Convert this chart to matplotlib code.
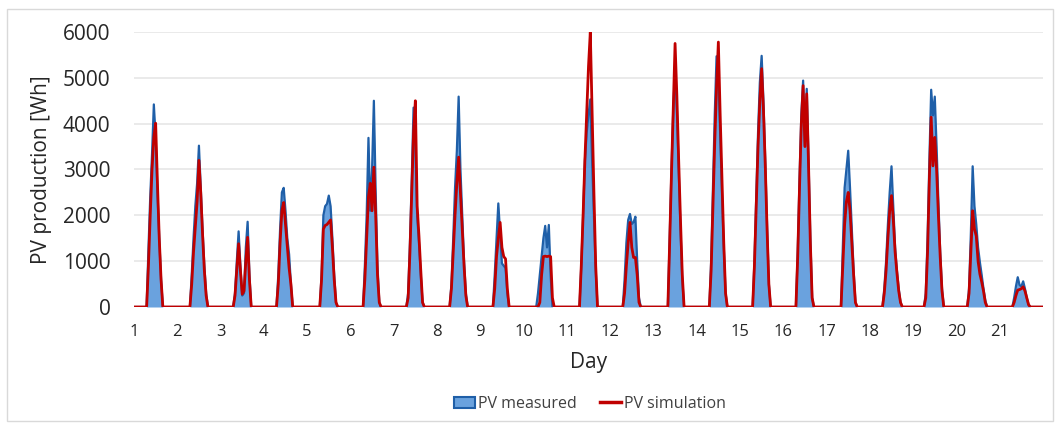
import numpy as np
import matplotlib.pyplot as plt
from matplotlib.patches import Rectangle, Patch
from matplotlib.lines import Line2D

plt.rcParams['font.family'] = ['Open Sans', 'DejaVu Sans']

# Datos horarios (Wh) de las 6h a las 18h, un renglon por dia
first_hour = 6
days = list(range(1, 22))

measured = [
    [0, 0, 1250, 2400, 3340, 4420, 3700, 2500, 1500, 600, 0, 0, 0],
    [0, 0, 700, 1500, 2200, 2700, 3520, 2600, 1700, 900, 300, 0, 0],
    [0, 0, 300, 1000, 1650, 900, 250, 300, 1300, 1860, 700, 0, 0],
    [0, 0, 700, 1700, 2500, 2600, 2100, 1500, 1150, 500, 0, 0, 0],
    [0, 0, 700, 2000, 2200, 2250, 2430, 2200, 1500, 700, 100, 0, 0],
    [0, 0, 900, 2000, 3690, 2100, 3000, 4500, 2500, 900, 100, 0, 0],
    [0, 0, 300, 1400, 2800, 4350, 3500, 2000, 1400, 700, 100, 0, 0],
    [0, 0, 500, 1500, 2600, 3400, 4590, 3000, 2000, 1000, 300, 0, 0],
    [0, 0, 700, 1500, 2260, 1600, 950, 900, 850, 300, 0, 0, 0],
    [0, 0, 300, 700, 1100, 1500, 1770, 1300, 1790, 700, 0, 0, 0],
    [0, 0, 900, 2000, 3200, 3800, 4200, 4530, 3200, 2000, 800, 0, 0],
    [0, 0, 600, 1400, 1900, 2030, 1810, 1850, 1970, 1000, 200, 0, 0],
    [0, 0, 0, 1500, 3000, 4300, 5200, 4300, 3000, 1700, 600, 0, 0],
    [0, 0, 1000, 2600, 4200, 5470, 5000, 3800, 2500, 1300, 300, 0, 0],
    [0, 0, 1000, 2400, 3800, 4900, 5480, 4500, 3200, 1800, 500, 0, 0],
    [0, 0, 1200, 2800, 4200, 4940, 3520, 4760, 3200, 1500, 200, 0, 0],
    [0, 0, 0, 1300, 2600, 3000, 3410, 2600, 1700, 800, 100, 0, 0],
    [0, 0, 400, 1000, 1800, 2500, 3070, 2200, 1300, 800, 400, 100, 0],
    [0, 300, 1500, 3200, 4740, 4180, 4590, 3500, 2300, 1200, 400, 0, 0],
    [0, 400, 1600, 3070, 2200, 1800, 1300, 980, 700, 400, 150, 0, 0],
    [0, 0, 200, 450, 650, 480, 450, 560, 400, 200, 50, 0, 0],
]

simulated = [
    [0, 0, 900, 2000, 3000, 3700, 4010, 2700, 1500, 600, 0, 0, 0],
    [0, 0, 500, 1200, 1750, 2300, 3200, 2500, 1600, 800, 250, 0, 0],
    [0, 0, 250, 800, 1380, 800, 280, 350, 1000, 1520, 600, 0, 0],
    [0, 0, 500, 1400, 2100, 2280, 1800, 1300, 850, 500, 0, 0, 0],
    [0, 0, 600, 1700, 1780, 1800, 1850, 1900, 1300, 600, 100, 0, 0],
    [0, 0, 600, 1500, 2400, 2700, 2100, 3050, 2000, 700, 100, 0, 0],
    [0, 0, 200, 1200, 2500, 3800, 4500, 2200, 1550, 800, 100, 0, 0],
    [0, 0, 400, 1200, 2000, 2700, 3270, 2500, 1700, 900, 250, 0, 0],
    [0, 0, 400, 1100, 1500, 1845, 1300, 1100, 1050, 400, 0, 0, 0],
    [0, 0, 0, 100, 700, 1100, 1110, 1100, 1110, 1100, 200, 0, 0],
    [0, 0, 900, 2000, 3200, 4200, 5250, 6000, 4200, 2500, 900, 0, 0],
    [0, 0, 300, 900, 1400, 1845, 1300, 1080, 1080, 700, 100, 0, 0],
    [0, 0, 0, 1400, 2900, 4300, 5750, 4600, 3200, 1900, 700, 0, 0],
    [0, 0, 800, 2200, 3600, 4800, 5780, 4200, 2800, 1400, 300, 0, 0],
    [0, 0, 900, 2200, 3500, 4500, 5200, 4300, 3100, 1700, 500, 0, 0],
    [0, 0, 1100, 2600, 4000, 4830, 3500, 4650, 3100, 1400, 200, 0, 0],
    [0, 0, 0, 900, 1800, 2300, 2500, 2100, 1400, 700, 100, 0, 0],
    [0, 0, 300, 800, 1500, 2100, 2430, 1900, 1200, 750, 350, 100, 0],
    [0, 200, 1200, 2800, 4140, 3080, 3700, 3000, 2000, 1100, 350, 0, 0],
    [0, 300, 1200, 2100, 1700, 1550, 1000, 720, 550, 350, 100, 0, 0],
    [0, 0, 100, 250, 370, 380, 400, 440, 350, 200, 50, 0, 0],
]

y_ticks = [0, 1000, 2000, 3000, 4000, 5000, 6000]

# Serie horaria completa
n = len(days) * 24 + 1
x = days[0] + np.arange(n) / 24
med = np.zeros(n)
sim = np.zeros(n)
for i in range(len(days)):
    k = i * 24 + first_hour
    med[k:k + len(measured[i])] = measured[i]
    sim[k:k + len(simulated[i])] = simulated[i]

fig = plt.figure(figsize=(10.56, 4.29), dpi=100)
ax = fig.add_axes([134 / 1056, 1 - 307 / 429, (1043 - 134) / 1056, 275 / 429])

ax.fill_between(x, 0, med, color='#6AA2DE', lw=0)
ax.plot(x, med, color='#1F5FA8', lw=1.6)
ax.plot(x, sim, color='#C00000', lw=2.0)

ax.set_xlim(1, 22)
ax.set_ylim(0, 6000)
ax.set_yticks(y_ticks)
ax.set_xticks(days)
ax.grid(axis='y', color='#E6E6E6', lw=1.2)
ax.set_axisbelow(True)
for s in ax.spines.values():
    s.set_visible(False)
ax.tick_params(axis='y', length=0, pad=17, labelsize=15, labelcolor='#262626')
ax.tick_params(axis='x', length=0, pad=12, labelsize=12, labelcolor='#262626')

ax.set_ylabel('PV production [Wh]', fontsize=15, color='#262626', labelpad=8)
ax.set_xlabel('Day', fontsize=15, color='#262626', labelpad=9)

# Leyenda
handles = [Patch(facecolor='#6AA2DE', edgecolor='#1F5FA8', lw=1.5),
           Line2D([0], [0], color='#C00000', lw=2.5)]
fig.legend(handles, ['PV measured', 'PV simulation'], loc='center',
           bbox_to_anchor=(590 / 1056, 1 - 404 / 429), ncol=2, frameon=False,
           fontsize=11.5, handlelength=1.3, handletextpad=0.2, columnspacing=1.5,
           labelcolor='#404040')

# Marco del grafico
fig.patches.append(Rectangle((7 / 1056, 8 / 429), 1046 / 1056, 412 / 429,
                             transform=fig.transFigure, fill=False,
                             edgecolor='#D9D9D9', lw=1))

fig.savefig('out.png', dpi=100)
